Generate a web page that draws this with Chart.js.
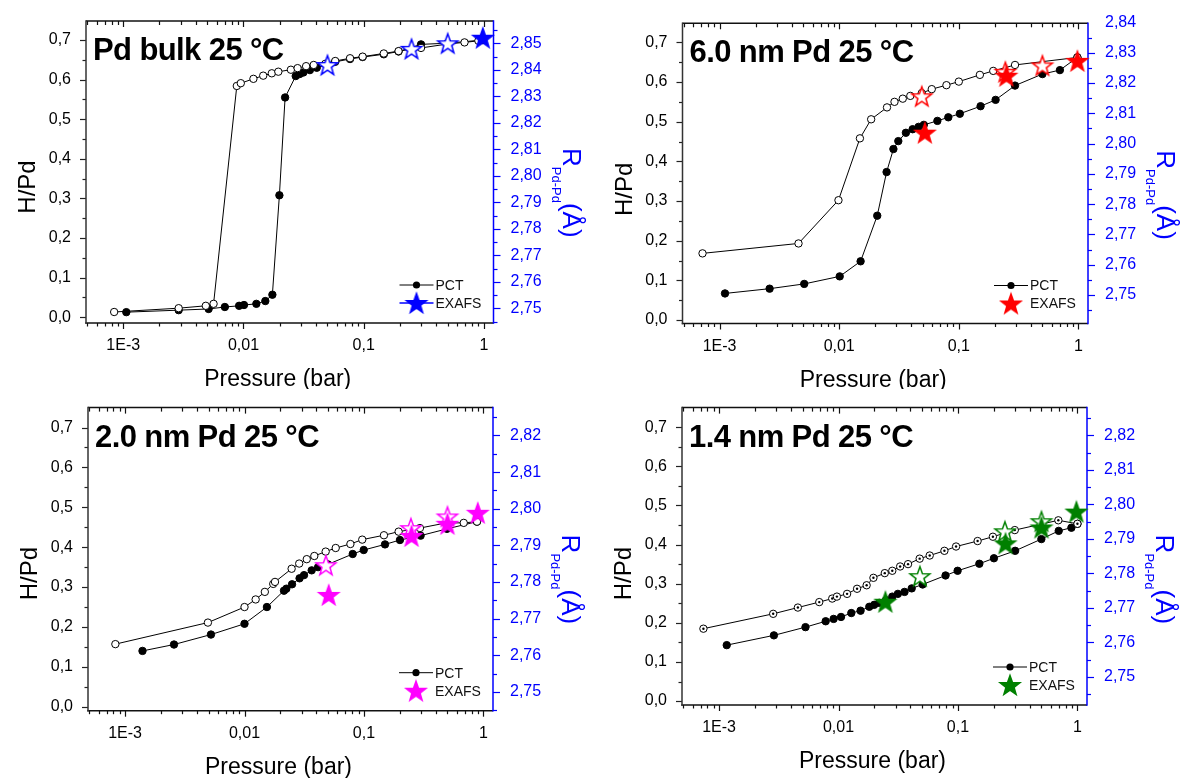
<!DOCTYPE html>
<html><head><meta charset="utf-8">
<script src="https://cdn.jsdelivr.net/npm/chart.js@4.4.1/dist/chart.umd.min.js"></script>
<style>
html,body{margin:0;padding:0;background:#fff;}
#wrap{position:relative;width:1180px;height:778px;overflow:hidden;background:#fff;}
#wrap canvas{position:absolute;}
</style></head><body>
<div id="wrap">
<canvas id="c1" width="590" height="389" style="left:0px;top:0px"></canvas>
<canvas id="c2" width="590" height="389" style="left:590px;top:0px"></canvas>
<canvas id="c3" width="590" height="389" style="left:0px;top:389px"></canvas>
<canvas id="c4" width="590" height="389" style="left:590px;top:389px"></canvas>
</div>
<script>
// ---------- tick labels ----------
const xTickValues = [0.001, 0.01, 0.1, 1];
const xTickLabels = ['1E-3', '0,01', '0,1', '1'];
const hTickValues = [0, 0.1, 0.2, 0.3, 0.4, 0.5, 0.6, 0.7];
const hTickLabels = ['0,0', '0,1', '0,2', '0,3', '0,4', '0,5', '0,6', '0,7'];
const rTickValuesBulk = [2.75, 2.76, 2.77, 2.78, 2.79, 2.80, 2.81, 2.82, 2.83, 2.84, 2.85];
const rTickLabelsBulk = ['2,75', '2,76', '2,77', '2,78', '2,79', '2,80', '2,81', '2,82', '2,83', '2,84', '2,85'];
const rTickValues6nm = [2.75, 2.76, 2.77, 2.78, 2.79, 2.80, 2.81, 2.82, 2.83, 2.84];
const rTickLabels6nm = ['2,75', '2,76', '2,77', '2,78', '2,79', '2,80', '2,81', '2,82', '2,83', '2,84'];
const rTickValuesSmall = [2.75, 2.76, 2.77, 2.78, 2.79, 2.80, 2.81, 2.82];
const rTickLabelsSmall = ['2,75', '2,76', '2,77', '2,78', '2,79', '2,80', '2,81', '2,82'];

// ---------- Pd bulk ----------
const bulkAbsP = [0.00106, 0.00289, 0.00513, 0.0070, 0.0092, 0.0101, 0.0128, 0.0152, 0.0174, 0.0199, 0.0222, 0.0272, 0.0293, 0.0315, 0.0357, 0.0407, 0.050, 0.058, 0.077, 0.098, 0.147, 0.195, 0.30, 0.50, 0.98];
const bulkAbsH = [0.013, 0.018, 0.021, 0.026, 0.029, 0.031, 0.034, 0.041, 0.057, 0.308, 0.555, 0.609, 0.614, 0.618, 0.624, 0.630, 0.638, 0.645, 0.652, 0.657, 0.664, 0.671, 0.689, 0.692, 0.700];
const bulkDesP = [0.00084, 0.00289, 0.00486, 0.00564, 0.0088, 0.0095, 0.0121, 0.0146, 0.0172, 0.0195, 0.0248, 0.0282, 0.0332, 0.0384, 0.048, 0.058, 0.077, 0.098, 0.147, 0.195, 0.30, 0.50, 0.69, 0.90];
const bulkDesH = [0.0134, 0.023, 0.029, 0.034, 0.584, 0.591, 0.602, 0.610, 0.616, 0.620, 0.625, 0.629, 0.634, 0.637, 0.640, 0.647, 0.654, 0.658, 0.666, 0.672, 0.680, 0.690, 0.694, 0.698];
const bulkExOpenP = [0.05, 0.25, 0.50];
const bulkExOpenR = [2.8418, 2.8479, 2.8500];
const bulkExFillP = [0.98];
const bulkExFillR = [2.8521];

// ---------- 6.0 nm ----------
const nm6AbsP = [0.00111, 0.00262, 0.0051, 0.0101, 0.0151, 0.0208, 0.0249, 0.0284, 0.0312, 0.0361, 0.0411, 0.0461, 0.051, 0.0662, 0.0817, 0.102, 0.152, 0.203, 0.295, 0.50, 0.70, 0.98];
const nm6AbsH = [0.067, 0.079, 0.091, 0.110, 0.148, 0.263, 0.373, 0.431, 0.451, 0.472, 0.481, 0.487, 0.492, 0.502, 0.511, 0.520, 0.539, 0.555, 0.591, 0.620, 0.630, 0.662];
const nm6DesP = [0.00072, 0.00457, 0.00986, 0.0149, 0.0185, 0.0251, 0.029, 0.034, 0.0393, 0.049, 0.0594, 0.0788, 0.100, 0.150, 0.194, 0.295, 0.98];
const nm6DesH = [0.168, 0.193, 0.302, 0.458, 0.506, 0.536, 0.550, 0.558, 0.565, 0.572, 0.582, 0.592, 0.601, 0.618, 0.628, 0.643, 0.662];
const nm6ExOpenP = [0.049, 0.245, 0.50];
const nm6ExOpenR = [2.8156, 2.8237, 2.8258];
const nm6ExFillP = [0.052, 0.25, 0.98];
const nm6ExFillR = [2.8036, 2.8224, 2.8273];

// ---------- 2.0 nm ----------
const nm2AbsP = [0.0014, 0.00257, 0.00524, 0.0100, 0.0154, 0.0214, 0.0224, 0.0250, 0.0289, 0.0315, 0.0365, 0.0413, 0.050, 0.0805, 0.0995, 0.150, 0.200, 0.298, 0.495, 0.883];
const nm2AbsH = [0.140, 0.156, 0.181, 0.208, 0.250, 0.291, 0.296, 0.307, 0.322, 0.330, 0.342, 0.350, 0.357, 0.383, 0.393, 0.407, 0.418, 0.429, 0.446, 0.464];
const nm2DesP = [0.00083, 0.00494, 0.0100, 0.0124, 0.0148, 0.0174, 0.018, 0.0248, 0.0287, 0.0332, 0.0384, 0.0478, 0.058, 0.077, 0.0967, 0.147, 0.195, 0.294, 0.49, 0.684, 0.883];
const nm2DesH = [0.157, 0.211, 0.250, 0.269, 0.288, 0.308, 0.313, 0.346, 0.359, 0.370, 0.378, 0.389, 0.398, 0.408, 0.419, 0.430, 0.439, 0.448, 0.461, 0.461, 0.464];
const nm2ExOpenP = [0.048, 0.247, 0.50];
const nm2ExOpenR = [2.7846, 2.7947, 2.7979];
const nm2ExFillP = [0.0507, 0.25, 0.50, 0.897];
const nm2ExFillR = [2.7765, 2.7926, 2.7959, 2.7989];

// ---------- 1.4 nm ----------
const nm14AbsP = [0.00116, 0.00288, 0.00529, 0.00781, 0.0091, 0.0105, 0.0128, 0.0153, 0.0181, 0.0199, 0.0219, 0.025, 0.0282, 0.0314, 0.0357, 0.041, 0.0506, 0.0787, 0.0993, 0.151, 0.200, 0.301, 0.499, 0.697, 0.89, 1.0];
const nm14AbsH = [0.143, 0.168, 0.189, 0.204, 0.210, 0.215, 0.225, 0.231, 0.241, 0.246, 0.251, 0.258, 0.267, 0.274, 0.279, 0.288, 0.298, 0.321, 0.333, 0.351, 0.365, 0.384, 0.414, 0.435, 0.443, 0.453];
const nm14DesP = [0.00074, 0.00284, 0.00457, 0.0069, 0.00886, 0.0097, 0.0118, 0.0143, 0.0172, 0.0196, 0.0244, 0.0282, 0.0328, 0.0382, 0.0478, 0.058, 0.077, 0.0964, 0.146, 0.196, 0.299, 0.692, 1.0];
const nm14DesH = [0.185, 0.223, 0.239, 0.253, 0.262, 0.267, 0.274, 0.287, 0.296, 0.315, 0.327, 0.333, 0.344, 0.350, 0.364, 0.372, 0.384, 0.395, 0.409, 0.420, 0.437, 0.462, 0.453];
const nm14ExOpenP = [0.048, 0.247, 0.50];
const nm14ExOpenR = [2.7792, 2.7922, 2.7951];
const nm14ExFillP = [0.0247, 0.25, 0.50, 0.98];
const nm14ExFillR = [2.7718, 2.7887, 2.7933, 2.7979];

// ---------- drawing helpers ----------
const FONT = "'Liberation Sans', Arial, Helvetica, sans-serif";
const BLUE = '#0000ff';
const W = 590, H = 389;
const X_MIN = Math.pow(10, -3.31), X_MAX = Math.pow(10, 0.08);

function zip(xs, ys) { return xs.map((x, i) => ({ x: x, y: ys[i] })); }

function starImg(color, filled) {
  const s = 26, c = document.createElement('canvas');
  c.width = s; c.height = s;
  const g = c.getContext('2d');
  const R = 10.4, r = 4.2, cx = s / 2, cy = s / 2 + 1;
  g.beginPath();
  for (let i = 0; i < 10; i++) {
    const a = -Math.PI / 2 + i * Math.PI / 5;
    const rad = (i % 2) ? r : R;
    g.lineTo(cx + rad * Math.cos(a), cy + rad * Math.sin(a));
  }
  g.closePath();
  g.fillStyle = filled ? color : '#ffffff';
  g.fill();
  g.lineJoin = 'miter';
  g.lineWidth = 1.5;
  g.strokeStyle = color;
  g.stroke();
  return c;
}

function line(ctx, x1, y1, x2, y2) { ctx.beginPath(); ctx.moveTo(x1, y1); ctx.lineTo(x2, y2); ctx.stroke(); }

function makePanel(cfg) {
  const A = cfg.area;
  const starFill = starImg(cfg.color, true);
  const starOpen = starImg(cfg.color, false);
  const datasets = [
    { label: 'EXAFS', data: zip(cfg.exFillP, cfg.exFillR), yAxisID: 'yR', showLine: false,
      pointStyle: starFill, pointRadius: 10, clip: false },
    { label: 'EXAFS des', data: zip(cfg.exOpenP, cfg.exOpenR), yAxisID: 'yR', showLine: false,
      pointStyle: starOpen, pointRadius: 10, clip: false }
  ];
  if (cfg.dotted) {
    datasets.push({ label: 'centre', data: zip(cfg.desP, cfg.desH), yAxisID: 'yH', showLine: false,
      pointRadius: 1.2, pointBackgroundColor: '#000', pointBorderColor: '#000', pointBorderWidth: 0, clip: false });
  }
  datasets.push({ label: 'PCT des', data: zip(cfg.desP, cfg.desH), yAxisID: 'yH',
    borderColor: '#000', borderWidth: 1, tension: 0,
    pointRadius: 3.7, pointBackgroundColor: '#fff', pointBorderColor: '#000', pointBorderWidth: 1, clip: false });
  datasets.push({ label: 'PCT', data: zip(cfg.absP, cfg.absH), yAxisID: 'yH',
    borderColor: '#000', borderWidth: 1, tension: 0,
    pointRadius: 3.7, pointBackgroundColor: '#000', pointBorderColor: '#000', pointBorderWidth: 1, clip: false });

  const framePlugin = {
    id: 'frame',
    beforeDatasetsDraw(chart) {
      const ctx = chart.ctx, ca = chart.chartArea;
      const xs = chart.scales.x, yh = chart.scales.yH, yr = chart.scales.yR;
      ctx.save();
      ctx.lineCap = 'butt';
      ctx.strokeStyle = '#111'; ctx.lineWidth = 1.2;
      for (let d = -4; d <= 0; d++) {
        for (let k = 1; k <= 9; k++) {
          const v = k * Math.pow(10, d);
          if (v < X_MIN || v > X_MAX) continue;
          const px = Math.round(xs.getPixelForValue(v)) + 0.5;
          const major = (k === 1);
          line(ctx, px, ca.bottom, px, ca.bottom + (major ? 6 : 3.5));
          line(ctx, px, ca.top, px, ca.top + (major ? 6 : 4));
        }
      }
      ctx.strokeStyle = '#222';
      for (let i = 0; i <= 14; i++) {
        const v = i * 0.05;
        const py = Math.round(yh.getPixelForValue(v)) + 0.5;
        line(ctx, ca.left, py, ca.left - (i % 2 === 0 ? 6 : 3.5), py);
      }
      ctx.strokeStyle = BLUE;
      for (let i = 0; i <= 60; i++) {
        const v = 2.74 + i * 0.005;
        if (v < yr.min - 1e-9 || v > yr.max + 1e-9) continue;
        const py = Math.round(yr.getPixelForValue(v)) + 0.5;
        line(ctx, ca.right, py, ca.right + (i % 2 === 0 ? 7 : 4), py);
      }
      ctx.lineWidth = 1.5;
      ctx.strokeStyle = '#111';
      line(ctx, ca.left, ca.top, ca.right, ca.top);
      line(ctx, ca.left - 0.75, ca.bottom, ca.right, ca.bottom);
      ctx.strokeStyle = '#333';
      line(ctx, ca.left, ca.top - 0.75, ca.left, ca.bottom + 0.75);
      ctx.strokeStyle = BLUE;
      line(ctx, ca.right, ca.top - 0.75, ca.right, ca.bottom + 0.75);
      ctx.restore();
    },
    afterDraw(chart) {
      const ctx = chart.ctx, ca = chart.chartArea;
      ctx.save();
      ctx.fillStyle = '#000';
      ctx.font = `bold 31px ${FONT}`;
      ctx.textAlign = 'left'; ctx.textBaseline = 'alphabetic';
      try { ctx.letterSpacing = '-0.6px'; } catch (e) {}
      ctx.fillText(cfg.title, ca.left + 7, ca.top + 39);
      try { ctx.letterSpacing = '0px'; } catch (e) {}
      ctx.font = `23px ${FONT}`;
      ctx.textAlign = 'center';
      ctx.fillText('Pressure (bar)', (ca.left + ca.right) / 2 - 12, ca.bottom + 63);
      ctx.save();
      ctx.translate(ca.left - 51, ca.top + 166);
      ctx.rotate(-Math.PI / 2);
      ctx.textAlign = 'center';
      ctx.font = `24px ${FONT}`;
      ctx.fillText('H/Pd', 0, 0);
      ctx.restore();
      ctx.save();
      ctx.fillStyle = BLUE;
      ctx.translate(ca.right + 69, ca.top + 127);
      ctx.rotate(Math.PI / 2);
      ctx.textAlign = 'left';
      ctx.font = `26px ${FONT}`;
      ctx.fillText('R', 0, 0);
      let w = ctx.measureText('R').width;
      ctx.font = `13px ${FONT}`;
      ctx.fillText('Pd-Pd', w, 11);
      w += ctx.measureText('Pd-Pd').width;
      ctx.font = `26px ${FONT}`;
      ctx.fillText('(\u00C5)', w, 0);
      ctx.restore();
      const xm = ca.right - 77, y1 = ca.bottom - 38, y2 = ca.bottom - 20;
      ctx.strokeStyle = '#000'; ctx.lineWidth = 1;
      line(ctx, xm - 17, y1, xm + 17, y1);
      ctx.beginPath(); ctx.arc(xm, y1, 3.6, 0, Math.PI * 2); ctx.fillStyle = '#000'; ctx.fill();
      if (cfg.legendLine) {
        ctx.strokeStyle = cfg.color; ctx.lineWidth = 1.5;
        line(ctx, xm - 17, y2, xm + 17, y2);
      }
      ctx.drawImage(starFill, xm - starFill.width / 2, y2 - starFill.height / 2);
      ctx.fillStyle = '#111';
      ctx.font = `14px ${FONT}`;
      ctx.textAlign = 'left'; ctx.textBaseline = 'middle';
      ctx.fillText('PCT', xm + 19, y1 + 1);
      ctx.fillText('EXAFS', xm + 19, y2 + 1);
      ctx.restore();
    }
  };

  return new Chart(document.getElementById(cfg.id), {
    type: 'line',
    data: { datasets: datasets },
    options: {
      responsive: false, animation: false, devicePixelRatio: 1,
      layout: { padding: { top: A.top, left: 0, right: 0, bottom: 0 } },
      plugins: { legend: { display: false }, tooltip: { enabled: false } },
      scales: {
        x: {
          type: 'logarithmic', position: 'bottom', min: X_MIN, max: X_MAX,
          grid: { display: false }, border: { display: false },
          afterBuildTicks: s => { s.ticks = xTickValues.map(v => ({ value: v })); },
          afterFit: s => { s.height = H - A.bottom; },
          ticks: { autoSkip: false, maxRotation: 0, minRotation: 0, padding: 5, color: '#000',
            font: { family: FONT, size: 16 }, callback: (v, i) => xTickLabels[i] }
        },
        yH: {
          type: 'linear', position: 'left', min: cfg.hMin, max: cfg.hMax,
          grid: { display: false }, border: { display: false },
          afterBuildTicks: s => { s.ticks = hTickValues.map(v => ({ value: v })); },
          afterFit: s => { s.width = A.left; },
          ticks: { autoSkip: false, padding: 7, color: '#000',
            font: { family: FONT, size: 16 }, callback: (v, i) => hTickLabels[i] }
        },
        yR: {
          type: 'linear', position: 'right', min: cfg.rMin, max: cfg.rMax,
          grid: { display: false }, border: { display: false },
          afterBuildTicks: s => { s.ticks = cfg.rTicks.map(v => ({ value: v })); },
          afterFit: s => { s.width = W - A.right; },
          ticks: { autoSkip: false, padding: 9, color: BLUE,
            font: { family: FONT, size: 16 }, callback: (v, i) => cfg.rLabels[i] }
        }
      }
    },
    plugins: [framePlugin]
  });
}

makePanel({ id: 'c1', title: 'Pd bulk 25 \u00B0C', color: '#0000ff', legendLine: true, dotted: false,
  area: { left: 86, right: 493.5, top: 21, bottom: 323 },
  hMin: -0.0144, hMax: 0.748, rMin: 2.7445, rMax: 2.8584,
  rTicks: rTickValuesBulk, rLabels: rTickLabelsBulk,
  absP: bulkAbsP, absH: bulkAbsH, desP: bulkDesP, desH: bulkDesH,
  exOpenP: bulkExOpenP, exOpenR: bulkExOpenR, exFillP: bulkExFillP, exFillR: bulkExFillR });

makePanel({ id: 'c2', title: '6.0 nm Pd 25 \u00B0C', color: '#ff0000', legendLine: false, dotted: false,
  area: { left: 92.5, right: 498, top: 23.3, bottom: 323.5 },
  hMin: -0.0088, hMax: 0.748, rMin: 2.7406, rMax: 2.8397,
  rTicks: rTickValues6nm, rLabels: rTickLabels6nm,
  absP: nm6AbsP, absH: nm6AbsH, desP: nm6DesP, desH: nm6DesH,
  exOpenP: nm6ExOpenP, exOpenR: nm6ExOpenR, exFillP: nm6ExFillP, exFillR: nm6ExFillR });

makePanel({ id: 'c3', title: '2.0 nm Pd 25 \u00B0C', color: '#ff00ff', legendLine: false, dotted: false,
  area: { left: 88, right: 493, top: 15, bottom: 321.7 },
  hMin: -0.0099, hMax: 0.750, rMin: 2.7449, rMax: 2.8276,
  rTicks: rTickValuesSmall, rLabels: rTickLabelsSmall,
  absP: nm2AbsP, absH: nm2AbsH, desP: nm2DesP, desH: nm2DesH,
  exOpenP: nm2ExOpenP, exOpenR: nm2ExOpenR, exFillP: nm2ExFillP, exFillR: nm2ExFillR });

makePanel({ id: 'c4', title: '1.4 nm Pd 25 \u00B0C', color: '#008000', legendLine: false, dotted: true,
  area: { left: 92, right: 497, top: 13.7, bottom: 316 },
  hMin: -0.010, hMax: 0.750, rMin: 2.7419, rMax: 2.828,
  rTicks: rTickValuesSmall, rLabels: rTickLabelsSmall,
  absP: nm14AbsP, absH: nm14AbsH, desP: nm14DesP, desH: nm14DesH,
  exOpenP: nm14ExOpenP, exOpenR: nm14ExOpenR, exFillP: nm14ExFillP, exFillR: nm14ExFillR });
</script>
</body></html>
